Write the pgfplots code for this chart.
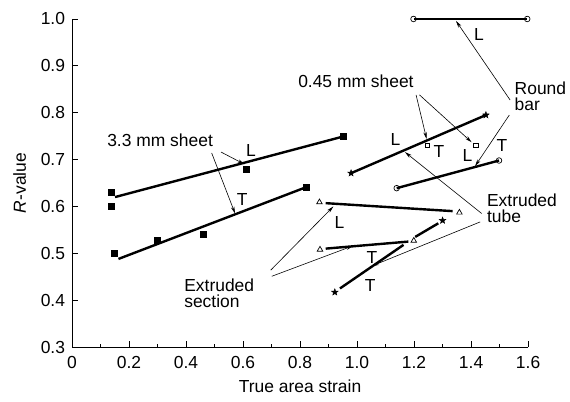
\documentclass[border=0pt]{standalone}
\usepackage{fontspec}
\setmainfont{Liberation Sans}
\usepackage{pgfplots}
\pgfplotsset{compat=1.18}
\usetikzlibrary{arrows.meta}
\pgfdeclareplotmark{fstar}{%
  \pgfpathmoveto{\pgfpointpolar{90}{\pgfplotmarksize}}%
  \pgfpathlineto{\pgfpointpolar{126}{0.42\pgfplotmarksize}}%
  \pgfpathlineto{\pgfpointpolar{162}{\pgfplotmarksize}}%
  \pgfpathlineto{\pgfpointpolar{198}{0.42\pgfplotmarksize}}%
  \pgfpathlineto{\pgfpointpolar{234}{\pgfplotmarksize}}%
  \pgfpathlineto{\pgfpointpolar{270}{0.42\pgfplotmarksize}}%
  \pgfpathlineto{\pgfpointpolar{306}{\pgfplotmarksize}}%
  \pgfpathlineto{\pgfpointpolar{342}{0.42\pgfplotmarksize}}%
  \pgfpathlineto{\pgfpointpolar{18}{\pgfplotmarksize}}%
  \pgfpathlineto{\pgfpointpolar{54}{0.42\pgfplotmarksize}}%
  \pgfpathclose\pgfusepathqfillstroke}
\begin{document}
\fontsize{17.5}{20}\selectfont
\begin{tikzpicture}
\begin{axis}[
  scale only axis, width=456bp, height=328bp,
  xmin=0, xmax=1.6, ymin=0.3, ymax=1.0,
  axis lines=left,
  axis line style={-, line width=0.7pt},
  every tick/.style={line width=0.7pt, black},
  xtick={0,0.2,0.4,0.6,0.8,1.0,1.2,1.4,1.6},
  xticklabels={0,0.2,0.4,0.6,0.8,1.0,1.2,1.4,1.6},
  ytick={0.3,0.4,0.5,0.6,0.7,0.8,0.9,1.0},
  yticklabels={0.3,0.4,0.5,0.6,0.7,0.8,0.9,1.0},
  minor xtick={0.1,0.3,0.5,0.7,0.9,1.1,1.3,1.5},
  tick align=inside,
  major tick length=6bp, minor tick length=3bp,
  /pgf/number format/assume math mode=true,
  tick label style={font=\fontsize{17.5}{20}\selectfont},
  label style={font=\fontsize{17.5}{20}\selectfont},
  xticklabel style={yshift=-3bp},
  yticklabel style={xshift=-1bp},
  xlabel={True area strain},
  ylabel={\textit{R}-value},
  xlabel style={yshift=0bp},
  ylabel style={yshift=3bp},
  clip=false,
]
% fit lines
\addplot[black, line width=2.4bp] coordinates {(0.151,0.620) (0.95,0.749)};
\addplot[black, line width=2.4bp] coordinates {(0.163,0.488) (0.821,0.641)};
\addplot[black, line width=2.4bp] coordinates {(1.20,1.0) (1.597,1.0)};
\addplot[black, line width=2.4bp] coordinates {(1.139,0.639) (1.498,0.698)};
\addplot[black, line width=2.4bp] coordinates {(0.979,0.671) (1.452,0.795)};
\addplot[black, line width=2.4bp] coordinates {(0.89,0.607) (1.335,0.590)};
\addplot[black, line width=2.4bp] coordinates {(0.89,0.510) (1.18,0.525)};
\addplot[black, line width=2.4bp] coordinates {(0.940,0.425) (1.163,0.518)};
\addplot[black, line width=2.4bp] coordinates {(1.204,0.535) (1.285,0.564)};
% points
\addplot[only marks, mark=square*, mark size=3bp, black] coordinates {
 (0.139,0.630) (0.139,0.601) (0.611,0.680) (0.95,0.749)};
\addplot[only marks, mark=square*, mark size=3bp, black] coordinates {
 (0.148,0.500) (0.30,0.528) (0.461,0.540) (0.821,0.641)};
\addplot[only marks, mark=o, mark size=2.8bp, black, mark options={fill=white, line width=0.7pt}] coordinates {
 (1.198,1.0) (1.597,1.0) (1.139,0.639) (1.498,0.698)};
\addplot[only marks, mark=fstar, mark size=3.5bp, black] coordinates {
 (0.979,0.671) (1.452,0.795) (0.922,0.417) (1.30,0.570)};
\addplot[only marks, mark=square, mark size=2.3bp, black, mark options={fill=white, line width=0.7pt}] coordinates {
 (1.246,0.730) (1.416,0.730)};
\addplot[only marks, mark=triangle, mark size=3.2bp, black, mark options={fill=white, line width=0.7pt}] coordinates {
 (0.868,0.609) (1.359,0.587) (0.870,0.508) (1.199,0.527)};
% annotations
\begin{scope}[line width=0.6pt, >={Stealth[length=7bp, width=3.5bp]}]
\node at (axis cs:0.309,0.742) {3.3 mm sheet};
\draw[->] (axis cs:0.523,0.716) -- (axis cs:0.605,0.690);
\node at (axis cs:0.628,0.720) {L};
\draw[->] (axis cs:0.49,0.714) -- (axis cs:0.572,0.585);
\node at (axis cs:0.597,0.614) {T};
\node at (axis cs:0.996,0.868) {0.45 mm sheet};
\draw[->] (axis cs:1.207,0.838) -- (axis cs:1.244,0.744);
\draw[->] (axis cs:1.219,0.838) -- (axis cs:1.402,0.737);
\node at (axis cs:1.287,0.717) {T};
\node at (axis cs:1.387,0.708) {L};
\node at (axis cs:1.508,0.729) {T};
\node at (axis cs:1.135,0.743) {L};
\node at (axis cs:1.428,0.967) {L};
\node[align=left, anchor=west, inner sep=0pt] at (axis cs:1.552,0.835) {Round\\[-4pt]bar};
\draw[->] (axis cs:1.537,0.827) -- (axis cs:1.347,0.996);
\draw[->] (axis cs:1.534,0.795) -- (axis cs:1.414,0.686);
\node[align=left, anchor=west, inner sep=0pt] at (axis cs:1.455,0.597) {Extruded\\[-4pt]tube};
\draw[->] (axis cs:1.437,0.585) -- (axis cs:1.168,0.716);
\draw[->] (axis cs:1.432,0.567) -- (axis cs:1.052,0.473);
\node[align=left, anchor=west, inner sep=0pt] at (axis cs:0.393,0.415) {Extruded\\[-4pt]section};
\draw[->] (axis cs:0.697,0.464) -- (axis cs:0.917,0.600);
\draw[->] (axis cs:0.701,0.451) -- (axis cs:0.986,0.516);
\node at (axis cs:0.938,0.565) {L};
\node at (axis cs:1.052,0.491) {T};
\node at (axis cs:1.046,0.432) {T};
\end{scope}
\coordinate (bbA) at (axis cs:-0.2526,1.0405);
\coordinate (bbB) at (axis cs:1.747,0.1848);
\end{axis}
\pgfresetboundingbox
\path[use as bounding box] (bbA) rectangle (bbB);
\end{tikzpicture}
\end{document}
